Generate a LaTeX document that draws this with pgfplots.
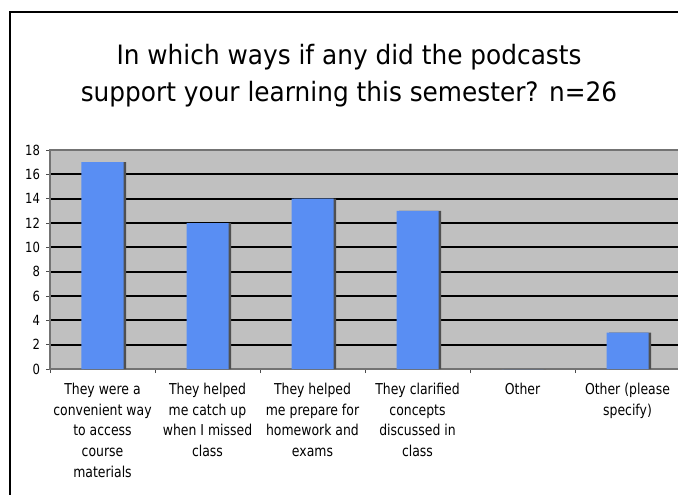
\documentclass[border=0pt]{standalone}
\usepackage{fontspec}
\setmainfont{DejaVu Sans}[FakeStretch=0.83]
\newfontfamily\titlefont{DejaVu Sans}[FakeStretch=0.93]
\usepackage{pgfplots}
\pgfplotsset{compat=1.18}
\definecolor{barblue}{RGB}{89,142,243}
\definecolor{plotgray}{RGB}{192,192,192}
\definecolor{shadowgray}{RGB}{80,80,80}
\begin{document}
\begin{tikzpicture}
\useasboundingbox (0,0) rectangle (508.5pt,370.5pt);
\clip (0,0) rectangle (508.5pt,370.5pt);
\fill[white] (0,0) rectangle (508.5pt,370.5pt);
\draw[black, line width=1.5pt] (7.5pt,-2pt) -- (7.5pt,361.5pt) -- (515pt,361.5pt);
\node[align=center, font=\titlefont\fontsize{20}{27.75}\selectfont] at (261.75pt,314pt)
  {In which ways if any did the podcasts\\support your learning this semester? n=26};
\begin{axis}[
  at={(37.5pt,93.75pt)}, anchor=south west,
  scale only axis, width=472.5pt, height=164.25pt,
  xmin=-0.5, xmax=5.5, ymin=0, ymax=18,
  ytick={0,2,...,18},
  xtick={0,...,5},
  minor xtick={-0.5,0.5,...,5.5},
  xticklabels={{They were a\\convenient way\\to access\\course\\materials},
               {They helped\\me catch up\\when I missed\\class},
               {They helped\\me prepare for\\homework and\\exams},
               {They clarified\\concepts\\discussed in\\class},
               {Other},
               {Other (please\\specify)}},
  xticklabel style={align=center, anchor=north, font=\fontsize{11.25}{15.5}\selectfont},
  yticklabel style={font=\fontsize{10.5}{12}\selectfont},
  /pgf/number format/assume math mode=true,
  major x tick style={draw=none},
  minor x tick style={draw=black!70, line width=0.6pt},
  major y tick style={draw=black!70, line width=0.6pt},
  tick align=outside,
  major tick length=3pt, minor tick length=3pt,
  ytick pos=left, xtick pos=bottom,
  ymajorgrids,
  major grid style={black, line width=1.3pt},
  axis line style={draw=black!55, line width=0.8pt},
  axis background/.style={fill=plotgray},
  xticklabel shift=4pt,
  yticklabel shift=1pt,
  ybar, bar width=31.5pt,
]
\addplot[fill=shadowgray, draw=none, bar shift=2pt] coordinates {(0,17) (1,12) (2,14) (3,13) (4,0) (5,3)};
\addplot[fill=barblue, draw=none, bar shift=0pt] coordinates {(0,17) (1,12) (2,14) (3,13) (4,0) (5,3)};
\end{axis}
\end{tikzpicture}
\end{document}
